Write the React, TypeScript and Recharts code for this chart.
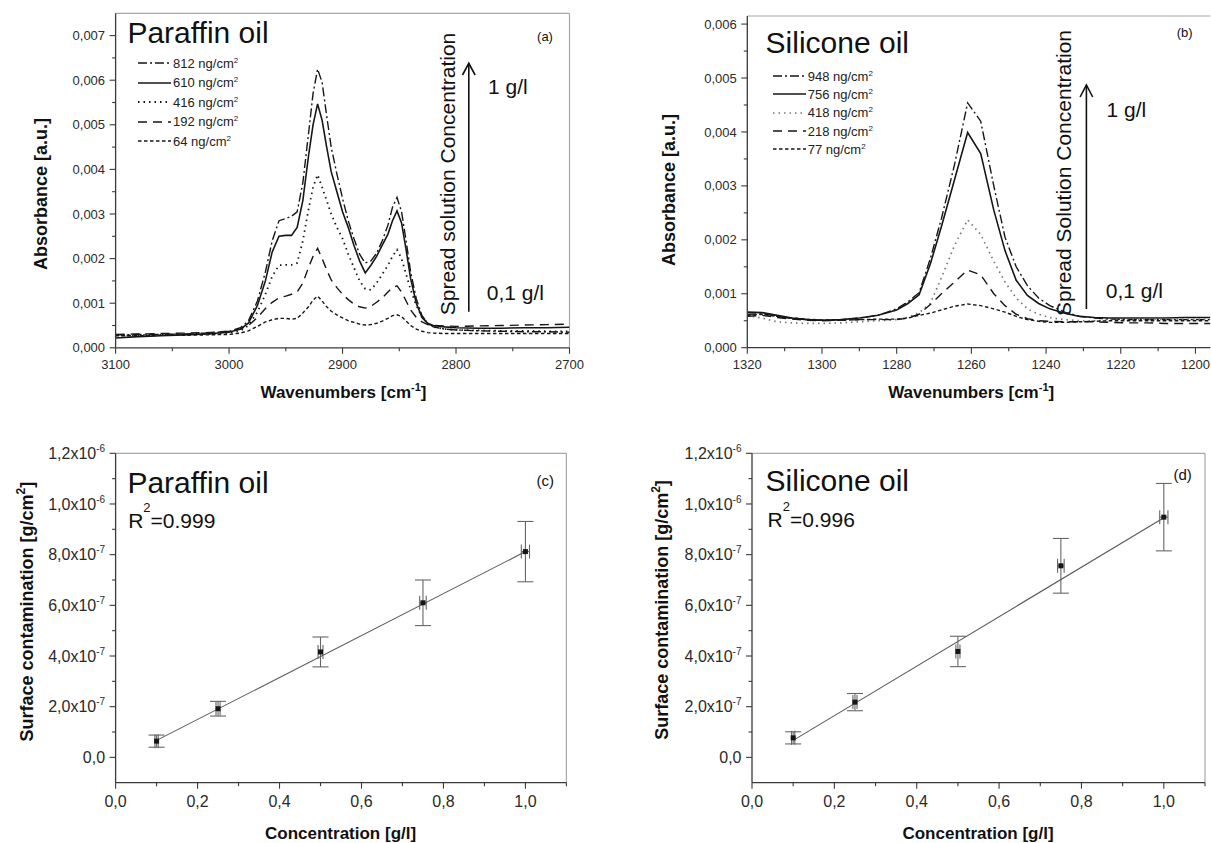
import React from "react";
import {
  ComposedChart,
  ErrorBar,
  Legend,
  Line,
  LineChart,
  ReferenceLine,
  Scatter,
  XAxis,
  YAxis,
} from "recharts";

const FONT = "'Liberation Sans', Arial, Helvetica, sans-serif";
const INK = "#161616";
const AXIS = "#3a3a3a";
const FRAME = "#a8a8a8";

// (a) paraffin oil spectra, absorbance in 1e-3 a.u.
const paraffinWn = [
  3100, 3080, 3060, 3040, 3020, 3000, 2990, 2983, 2975, 2968, 2962, 2956, 2950, 2945, 2940, 2935,
  2930, 2926, 2922, 2918, 2914, 2910, 2905, 2900, 2895, 2890, 2885, 2880, 2875, 2870, 2865, 2860,
  2856, 2852, 2848, 2844, 2840, 2835, 2830, 2825, 2820, 2810, 2800, 2780, 2760, 2740, 2720, 2700,
];
const paraffin812 = [
  0.29, 0.3, 0.3, 0.31, 0.33, 0.37, 0.45, 0.6, 1.05, 1.7, 2.4, 2.85, 2.9, 2.95, 3.05, 3.7,
  4.8, 5.7, 6.25, 5.95, 5.2, 4.5, 3.9, 3.35, 2.85, 2.45, 2.1, 1.9, 1.95, 2.12, 2.4, 2.75,
  3.15, 3.37, 3.05, 2.4, 1.7, 1.1, 0.72, 0.55, 0.47, 0.42, 0.4, 0.38, 0.37, 0.36, 0.36, 0.35,
];
const paraffin610 = [
  0.22, 0.25, 0.27, 0.29, 0.31, 0.35, 0.42, 0.55, 0.95, 1.5, 2.15, 2.5, 2.52, 2.52, 2.7, 3.3,
  4.3, 5.0, 5.47, 5.1, 4.5, 3.95, 3.5, 3.05, 2.7, 2.3, 1.95, 1.68, 1.85, 2.05, 2.3, 2.55,
  2.85, 3.07, 2.8, 2.2, 1.55, 1.0, 0.68, 0.55, 0.5, 0.47, 0.45, 0.44, 0.44, 0.45, 0.45, 0.46,
];
const paraffin416 = [
  0.28, 0.28, 0.29, 0.3, 0.31, 0.33, 0.38, 0.5, 0.8, 1.2, 1.6, 1.85, 1.86, 1.86, 1.9, 2.4,
  3.1, 3.6, 3.88, 3.6, 3.3, 3.0, 2.7, 2.45, 2.1, 1.8, 1.5, 1.32, 1.3, 1.45, 1.65, 1.85,
  2.05, 2.2, 2.0, 1.65, 1.3, 0.95, 0.7, 0.55, 0.47, 0.42, 0.4, 0.39, 0.38, 0.38, 0.37, 0.37,
];
const paraffin192 = [
  0.3, 0.31, 0.32, 0.33, 0.34, 0.37, 0.42, 0.5, 0.68, 0.88, 1.02, 1.12, 1.16, 1.2, 1.25, 1.45,
  1.8, 2.05, 2.23, 2.0, 1.75, 1.52, 1.35, 1.2, 1.08, 0.98, 0.92, 0.89, 0.93, 1.02, 1.12, 1.25,
  1.35, 1.39, 1.25, 1.05, 0.85, 0.68, 0.58, 0.52, 0.5, 0.49, 0.48, 0.49, 0.5, 0.51, 0.52, 0.53,
];
const paraffin64 = [
  0.27, 0.27, 0.28, 0.28, 0.29, 0.3, 0.33, 0.38, 0.48, 0.58, 0.63, 0.66, 0.66, 0.64, 0.66, 0.78,
  0.92, 1.07, 1.16, 1.05, 0.92, 0.82, 0.74, 0.67, 0.61, 0.57, 0.53, 0.51, 0.52, 0.55, 0.6, 0.66,
  0.72, 0.74, 0.7, 0.6, 0.5, 0.42, 0.37, 0.34, 0.33, 0.32, 0.32, 0.32, 0.32, 0.32, 0.32, 0.32,
];

// (b) silicone oil spectra, absorbance in 1e-3 a.u.
const siliconeWn = [
  1320, 1316, 1312, 1308, 1304, 1300, 1295, 1290, 1285, 1280, 1277, 1274, 1271, 1268, 1264.5, 1261,
  1257.5, 1254, 1251, 1248, 1245, 1242, 1239, 1235, 1231, 1227, 1223, 1218, 1213, 1208, 1203, 1198, 1196,
];
const silicone948 = [
  0.62, 0.63, 0.58, 0.54, 0.52, 0.51, 0.52, 0.55, 0.6, 0.72, 0.85, 1.02, 1.65, 2.4, 3.4, 4.54,
  4.2, 3.0, 2.05, 1.5, 1.15, 0.92, 0.78, 0.66, 0.58, 0.55, 0.53, 0.52, 0.52, 0.52, 0.52, 0.52, 0.52,
];
const silicone756 = [
  0.66, 0.65, 0.6, 0.55, 0.52, 0.51, 0.52, 0.55, 0.6, 0.7, 0.82, 0.98, 1.55, 2.25, 3.12, 3.99,
  3.6, 2.55, 1.8, 1.25, 0.97, 0.82, 0.72, 0.64, 0.58, 0.56, 0.55, 0.55, 0.55, 0.55, 0.56, 0.56, 0.56,
];
const silicone418 = [
  0.6, 0.55, 0.48, 0.46, 0.45, 0.45, 0.46, 0.48, 0.5, 0.52, 0.56, 0.65, 0.82, 1.3, 1.9, 2.37,
  2.1, 1.6, 1.22, 0.92, 0.72, 0.62, 0.56, 0.52, 0.5, 0.5, 0.51, 0.52, 0.53, 0.53, 0.53, 0.53, 0.53,
];
const silicone218 = [
  0.58, 0.6, 0.56, 0.53, 0.51, 0.5, 0.51, 0.52, 0.52, 0.52, 0.55, 0.62, 0.8, 1.0, 1.22, 1.44,
  1.35, 1.0, 0.78, 0.62, 0.54, 0.5, 0.49, 0.48, 0.48, 0.48, 0.47, 0.46, 0.46, 0.45, 0.45, 0.45, 0.45,
];
const silicone77 = [
  0.6, 0.62, 0.58, 0.55, 0.53, 0.51, 0.51, 0.52, 0.53, 0.53, 0.55, 0.6, 0.64, 0.7, 0.77, 0.81,
  0.78, 0.72, 0.66, 0.58, 0.52, 0.49, 0.47, 0.47, 0.48, 0.49, 0.5, 0.5, 0.5, 0.5, 0.5, 0.5, 0.5,
];

// (c), (d) calibration
const concentration = [0.1, 0.25, 0.5, 0.75, 1.0];
const paraffinSurface = [0.64e-7, 1.92e-7, 4.16e-7, 6.1e-7, 8.12e-7];
const paraffinSurfaceErr = [0.24e-7, 0.29e-7, 0.59e-7, 0.9e-7, 1.19e-7];
const paraffinConcErr = [0.004, 0.005, 0.006, 0.008, 0.01];
const paraffinFitX = [0.1, 1.0];
const paraffinFitY = [0.67e-7, 8.12e-7];
const siliconeSurface = [0.77e-7, 2.18e-7, 4.18e-7, 7.56e-7, 9.48e-7];
const siliconeSurfaceErr = [0.24e-7, 0.34e-7, 0.6e-7, 1.08e-7, 1.33e-7];
const siliconeConcErr = [0.004, 0.005, 0.005, 0.008, 0.01];
const siliconeFitX = [0.1, 1.0];
const siliconeFitY = [0.67e-7, 9.46e-7];

// ticks
const paraffinWnTicks = [3100, 3050, 3000, 2950, 2900, 2850, 2800, 2750, 2700];
const siliconeWnTicks = [1320, 1310, 1300, 1290, 1280, 1270, 1260, 1250, 1240, 1230, 1220, 1210, 1200];
const paraffinAbsTicks = [0, 0.0005, 0.001, 0.0015, 0.002, 0.0025, 0.003, 0.0035, 0.004, 0.0045, 0.005, 0.0055, 0.006, 0.0065, 0.007];
const siliconeAbsTicks = [0, 0.0005, 0.001, 0.0015, 0.002, 0.0025, 0.003, 0.0035, 0.004, 0.0045, 0.005, 0.0055, 0.006];
const concTicks = [0, 0.1, 0.2, 0.3, 0.4, 0.5, 0.6, 0.7, 0.8, 0.9, 1.0, 1.1];
const surfaceTicks = [0, 1e-7, 2e-7, 3e-7, 4e-7, 5e-7, 6e-7, 7e-7, 8e-7, 9e-7, 1e-6, 1.1e-6, 1.2e-6];

const DASH_DOT = "9 3 2 3";
const DOTTED = "1.5 4";
const DASHED = "9 6";
const SHORT_DASH = "3.5 2.5";

type Series = { key: string; label: string; values: number[]; dash?: string; color: string; width: number };

const paraffinSeries: Series[] = [
  { key: "s812", label: "812", values: paraffin812, dash: DASH_DOT, color: INK, width: 1.4 },
  { key: "s610", label: "610", values: paraffin610, color: INK, width: 1.6 },
  { key: "s416", label: "416", values: paraffin416, dash: DOTTED, color: INK, width: 1.8 },
  { key: "s192", label: "192", values: paraffin192, dash: DASHED, color: INK, width: 1.4 },
  { key: "s64", label: "64", values: paraffin64, dash: SHORT_DASH, color: INK, width: 1.4 },
];
const siliconeSeries: Series[] = [
  { key: "s948", label: "948", values: silicone948, dash: DASH_DOT, color: INK, width: 1.4 },
  { key: "s756", label: "756", values: silicone756, color: INK, width: 1.6 },
  { key: "s418", label: "418", values: silicone418, dash: DOTTED, color: "#777", width: 1.7 },
  { key: "s218", label: "218", values: silicone218, dash: DASHED, color: INK, width: 1.4 },
  { key: "s77", label: "77", values: silicone77, dash: SHORT_DASH, color: INK, width: 1.4 },
];

function toRows(wn: number[], series: Series[]) {
  return wn.map((w, i) => {
    const row: Record<string, number> = { wn: w };
    series.forEach((s) => {
      row[s.key] = s.values[i] / 1000;
    });
    return row;
  });
}

const paraffinRows = toRows(paraffinWn, paraffinSeries);
const siliconeRows = toRows(siliconeWn, siliconeSeries);

const paraffinPoints = concentration.map((x, i) => ({
  x,
  y: paraffinSurface[i],
  ey: paraffinSurfaceErr[i],
  ex: paraffinConcErr[i],
}));
const siliconePoints = concentration.map((x, i) => ({
  x,
  y: siliconeSurface[i],
  ey: siliconeSurfaceErr[i],
  ex: siliconeConcErr[i],
}));
const paraffinFit = paraffinFitX.map((x, i) => ({ x, y: paraffinFitY[i] }));
const siliconeFit = siliconeFitX.map((x, i) => ({ x, y: siliconeFitY[i] }));

type TickOpts = {
  major: (v: number) => boolean;
  label: (v: number) => React.ReactNode;
  fontSize: number;
  dy: number;
};

function makeYTick({ major, label, fontSize, dy }: TickOpts) {
  return function YTick(props: any) {
    const { x, y, payload } = props;
    const v = payload.value as number;
    const axisX = x + 9;
    const isMajor = major(v);
    return (
      <g>
        <line x1={axisX - (isMajor ? 6 : 3.5)} x2={axisX} y1={y} y2={y} stroke={AXIS} strokeWidth={1.1} />
        {isMajor && (
          <text x={x - 1.5} y={y + dy} textAnchor="end" fontSize={fontSize} fontFamily={FONT} fill="#2a2a2a">
            {label(v)}
          </text>
        )}
      </g>
    );
  };
}

function makeXTick({ major, label, fontSize, dy }: TickOpts) {
  return function XTick(props: any) {
    const { x, y, payload } = props;
    const v = payload.value as number;
    const axisY = y - 9;
    const isMajor = major(v);
    return (
      <g>
        <line x1={x} x2={x} y1={axisY} y2={axisY + (isMajor ? 6 : 3.5)} stroke={AXIS} strokeWidth={1.1} />
        {isMajor && (
          <text x={x} y={y + dy} textAnchor="middle" fontSize={fontSize} fontFamily={FONT} fill="#2a2a2a">
            {label(v)}
          </text>
        )}
      </g>
    );
  };
}

const absLabel = (v: number) => v.toFixed(3).replace(".", ",");
const absMajor = (v: number) => Math.round(v * 2000) % 2 === 0;
const concLabel = (v: number) => v.toFixed(1).replace(".", ",");
const concMajor = (v: number) => Math.round(v * 10) % 2 === 0;
const surfaceMajor = (v: number) => Math.round(v / 1e-7) % 2 === 0;
const surfaceLabel = (v: number) => {
  if (Math.abs(v) < 1e-12) return "0,0";
  const exp = v >= 0.95e-6 ? -6 : -7;
  const m = (v / Math.pow(10, exp)).toFixed(1).replace(".", ",");
  return [
    m + "x10",
    <tspan key="e" dy={-7} fontSize={10}>
      {String(exp)}
    </tspan>,
  ];
};

const absTick = makeYTick({ major: absMajor, label: absLabel, fontSize: 13, dy: 4.6 });
const wnTickA = makeXTick({ major: (v) => v % 100 === 0, label: (v) => String(v), fontSize: 13, dy: 12 });
const wnTickB = makeXTick({ major: (v) => v % 20 === 0, label: (v) => String(v), fontSize: 13, dy: 12 });
const concTick = makeXTick({ major: concMajor, label: concLabel, fontSize: 16, dy: 15 });
const surfaceTick = makeYTick({ major: surfaceMajor, label: surfaceLabel, fontSize: 16, dy: 5.7 });

const axisLine = { stroke: AXIS, strokeWidth: 1.3 };

// legend keeps the series order (highest concentration first)
function SpectraLegend({ entries, series, rowH }: { entries: any[]; series: Series[]; rowH: number }) {
  const present = new Set((entries ?? []).map((p) => p.dataKey));
  const items = series.filter((s) => present.has(s.key));
  return (
    <div style={{ fontFamily: FONT }}>
      {items.map((s) => (
        <div key={s.key} style={{ display: "flex", alignItems: "center", height: rowH }}>
          <svg width={33} height={6}>
            <line x1={0} x2={33} y1={3} y2={3} stroke={s.color} strokeWidth={s.width} strokeDasharray={s.dash} />
          </svg>
          <span style={{ marginLeft: 2, fontSize: 13, color: "#222", lineHeight: 1, whiteSpace: "nowrap" }}>
            {s.label} ng/cm
            <sup style={{ fontSize: 8, verticalAlign: "top", lineHeight: 1 }}>2</sup>
          </span>
        </div>
      ))}
    </div>
  );
}

const pointShape = (p: any) => <rect x={p.cx - 2.5} y={p.cy - 2.5} width={5} height={5} fill={INK} />;
const noShape = () => <g />;

function CalibrationChart({
  points,
  fit,
  width,
  marginLeft,
  marginRight,
}: {
  points: typeof paraffinPoints;
  fit: typeof paraffinFit;
  width: number;
  marginLeft: number;
  marginRight: number;
}) {
  return (
    <ComposedChart width={width} height={423} margin={{ top: 33.3, right: marginRight, bottom: 30.3, left: marginLeft }}>
      <XAxis
        dataKey="x"
        type="number"
        domain={[0, 1.1]}
        ticks={concTicks}
        interval={0}
        tick={concTick}
        tickLine={false}
        tickSize={6}
        tickMargin={3}
        axisLine={axisLine}
        height={30}
        allowDataOverflow
      />
      <YAxis
        dataKey="y"
        type="number"
        domain={[-1e-7, 1.2e-6]}
        ticks={surfaceTicks}
        interval={0}
        tick={surfaceTick}
        tickLine={false}
        tickSize={6}
        tickMargin={3}
        axisLine={axisLine}
        width={70}
        allowDataOverflow
      />
      <ReferenceLine y={1.2e-6} stroke={FRAME} strokeWidth={1.2} />
      <ReferenceLine x={1.1} stroke={FRAME} strokeWidth={1.2} />
      <Scatter data={fit} line={{ stroke: "#5a5a5a", strokeWidth: 1.1 }} shape={noShape} isAnimationActive={false} />
      <Scatter data={points} shape={pointShape} isAnimationActive={false}>
        <ErrorBar dataKey="ey" direction="y" width={8} stroke="#666" strokeWidth={1.1} isAnimationActive={false} />
        <ErrorBar dataKey="ex" direction="x" width={7} stroke="#666" strokeWidth={1.1} isAnimationActive={false} />
      </Scatter>
    </ComposedChart>
  );
}

export default function App() {
  return (
    <div
      style={{
        position: "absolute",
        left: 0,
        top: 0,
        width: 1211,
        height: 843,
        background: "#fff",
        overflow: "hidden",
        fontFamily: FONT,
      }}
    >
      {/* (a) */}
      <div style={{ position: "absolute", left: 0, top: 0 }}>
        <LineChart width={600} height={420} data={paraffinRows} margin={{ top: 13.3, right: 30.5, bottom: 42.2, left: 45.6 }}>
          <XAxis
            dataKey="wn"
            type="number"
            domain={[2700, 3100]}
            reversed
            ticks={paraffinWnTicks}
            interval={0}
            tick={wnTickA}
            tickLine={false}
            tickSize={6}
            tickMargin={3}
            axisLine={axisLine}
            height={30}
            allowDataOverflow
          />
          <YAxis
            type="number"
            domain={[0, 0.0075]}
            ticks={paraffinAbsTicks}
            interval={0}
            tick={absTick}
            tickLine={false}
            tickSize={6}
            tickMargin={3}
            axisLine={axisLine}
            width={70}
            allowDataOverflow
          />
          <ReferenceLine y={0.0075} stroke={FRAME} strokeWidth={1.2} />
          <ReferenceLine x={2700} stroke={FRAME} strokeWidth={1.2} />
          {paraffinSeries.map((s) => (
            <Line
              key={s.key}
              dataKey={s.key}
              name={s.label}
              type="linear"
              stroke={s.color}
              strokeWidth={s.width}
              strokeDasharray={s.dash}
              dot={false}
              activeDot={false}
              isAnimationActive={false}
            />
          ))}
          <Legend
            layout="vertical"
            align="center"
            verticalAlign="middle"
            wrapperStyle={{ left: 138, top: 53.5, width: 130 }}
            content={(p: any) => <SpectraLegend entries={p.payload} series={paraffinSeries} rowH={19.5} />}
          />
        </LineChart>
      </div>

      {/* (b) */}
      <div style={{ position: "absolute", left: 600, top: 0 }}>
        <LineChart width={611} height={420} data={siliconeRows} margin={{ top: 16, right: 0.6, bottom: 42.3, left: 77.3 }}>
          <XAxis
            dataKey="wn"
            type="number"
            domain={[1196, 1320]}
            reversed
            ticks={siliconeWnTicks}
            interval={0}
            tick={wnTickB}
            tickLine={false}
            tickSize={6}
            tickMargin={3}
            axisLine={axisLine}
            height={30}
            allowDataOverflow
          />
          <YAxis
            type="number"
            domain={[0, 0.00615]}
            ticks={siliconeAbsTicks}
            interval={0}
            tick={absTick}
            tickLine={false}
            tickSize={6}
            tickMargin={3}
            axisLine={axisLine}
            width={70}
            allowDataOverflow
          />
          <ReferenceLine y={0.00615} stroke={FRAME} strokeWidth={1.2} />
          {siliconeSeries.map((s) => (
            <Line
              key={s.key}
              dataKey={s.key}
              name={s.label}
              type="linear"
              stroke={s.color}
              strokeWidth={s.width}
              strokeDasharray={s.dash}
              dot={false}
              activeDot={false}
              isAnimationActive={false}
            />
          ))}
          <Legend
            layout="vertical"
            align="center"
            verticalAlign="middle"
            wrapperStyle={{ left: 172.7, top: 67, width: 130 }}
            content={(p: any) => <SpectraLegend entries={p.payload} series={siliconeSeries} rowH={18.3} />}
          />
        </LineChart>
      </div>

      {/* (c) */}
      <div style={{ position: "absolute", left: 0, top: 420 }}>
        <CalibrationChart points={paraffinPoints} fit={paraffinFit} width={600} marginLeft={45.6} marginRight={33.6} />
      </div>

      {/* (d) */}
      <div style={{ position: "absolute", left: 600, top: 420 }}>
        <CalibrationChart points={siliconePoints} fit={siliconeFit} width={611} marginLeft={82} marginRight={6} />
      </div>

      {/* annotations */}
      <svg
        width={1211}
        height={843}
        style={{ position: "absolute", left: 0, top: 0, pointerEvents: "none" }}
        fontFamily={FONT}
      >
        <g fill="#111">
          <text x={127.4} y={43.3} fontSize={30}>Paraffin oil</text>
          <text x={765.6} y={53.3} fontSize={30}>Silicone oil</text>
          <text x={127.4} y={492.7} fontSize={30}>Paraffin oil</text>
          <text x={765.6} y={490.5} fontSize={30}>Silicone oil</text>

          <text x={545} y={40.5} fontSize={13} textAnchor="middle">(a)</text>
          <text x={1184.6} y={36.5} fontSize={13} textAnchor="middle">(b)</text>
          <text x={545.3} y={486} fontSize={15} textAnchor="middle">(c)</text>
          <text x={1182.6} y={480} fontSize={15} textAnchor="middle">(d)</text>

          <text x={128.2} y={528.3} fontSize={21}>
            R<tspan dy={-16} fontSize={13}>2</tspan>
            <tspan dy={16}>=0.999</tspan>
          </text>
          <text x={767.6} y={526.7} fontSize={21}>
            R<tspan dy={-16} fontSize={13}>2</tspan>
            <tspan dy={16}>=0.996</tspan>
          </text>

          <text transform="translate(455,174) rotate(-90)" fontSize={21} textAnchor="middle">
            Spread solution Concentration
          </text>
          <text transform="translate(1070.5,173) rotate(-90)" fontSize={21} textAnchor="middle">
            Spread Solution Concentration
          </text>
          <text x={488} y={93.5} fontSize={21}>1 g/l</text>
          <text x={486.8} y={300} fontSize={21}>0,1 g/l</text>
          <text x={1106.6} y={116.7} fontSize={21}>1 g/l</text>
          <text x={1105.8} y={298.3} fontSize={21}>0,1 g/l</text>
        </g>

        <g stroke="#111" strokeWidth={1.6} fill="none">
          <line x1={468.8} y1={311.7} x2={468.8} y2={63.8} />
          <polyline points="462.5,75 468.8,63.3 475.1,75" />
          <line x1={1086.4} y1={309} x2={1086.4} y2={85.5} />
          <polyline points="1080.1,97 1086.4,85 1092.7,97" />
        </g>

        <g fill="#111" fontWeight="bold" fontSize={17} textAnchor="middle">
          <text x={343.5} y={397.7}>
            Wavenumbers [cm<tspan dy={-7} fontSize={11}>-1</tspan>
            <tspan dy={7}>]</tspan>
          </text>
          <text x={971.2} y={398.3}>
            Wavenumbers [cm<tspan dy={-7} fontSize={11}>-1</tspan>
            <tspan dy={7}>]</tspan>
          </text>
          <text x={340.6} y={839.3}>Concentration [g/l]</text>
          <text x={978} y={839.3}>Concentration [g/l]</text>
        </g>
        <g fill="#111" fontWeight="bold" fontSize={18} textAnchor="middle">
          <text transform="translate(46.7,194) rotate(-90)">Absorbance [a.u.]</text>
          <text transform="translate(675,190) rotate(-90)">Absorbance [a.u.]</text>
          <text transform="translate(32.6,611.7) rotate(-90)">
            Surface contamination [g/cm<tspan dy={-8} fontSize={12}>2</tspan>
            <tspan dy={8}>]</tspan>
          </text>
          <text transform="translate(668,610) rotate(-90)">
            Surface contamination [g/cm<tspan dy={-8} fontSize={12}>2</tspan>
            <tspan dy={8}>]</tspan>
          </text>
        </g>
      </svg>
    </div>
  );
}
